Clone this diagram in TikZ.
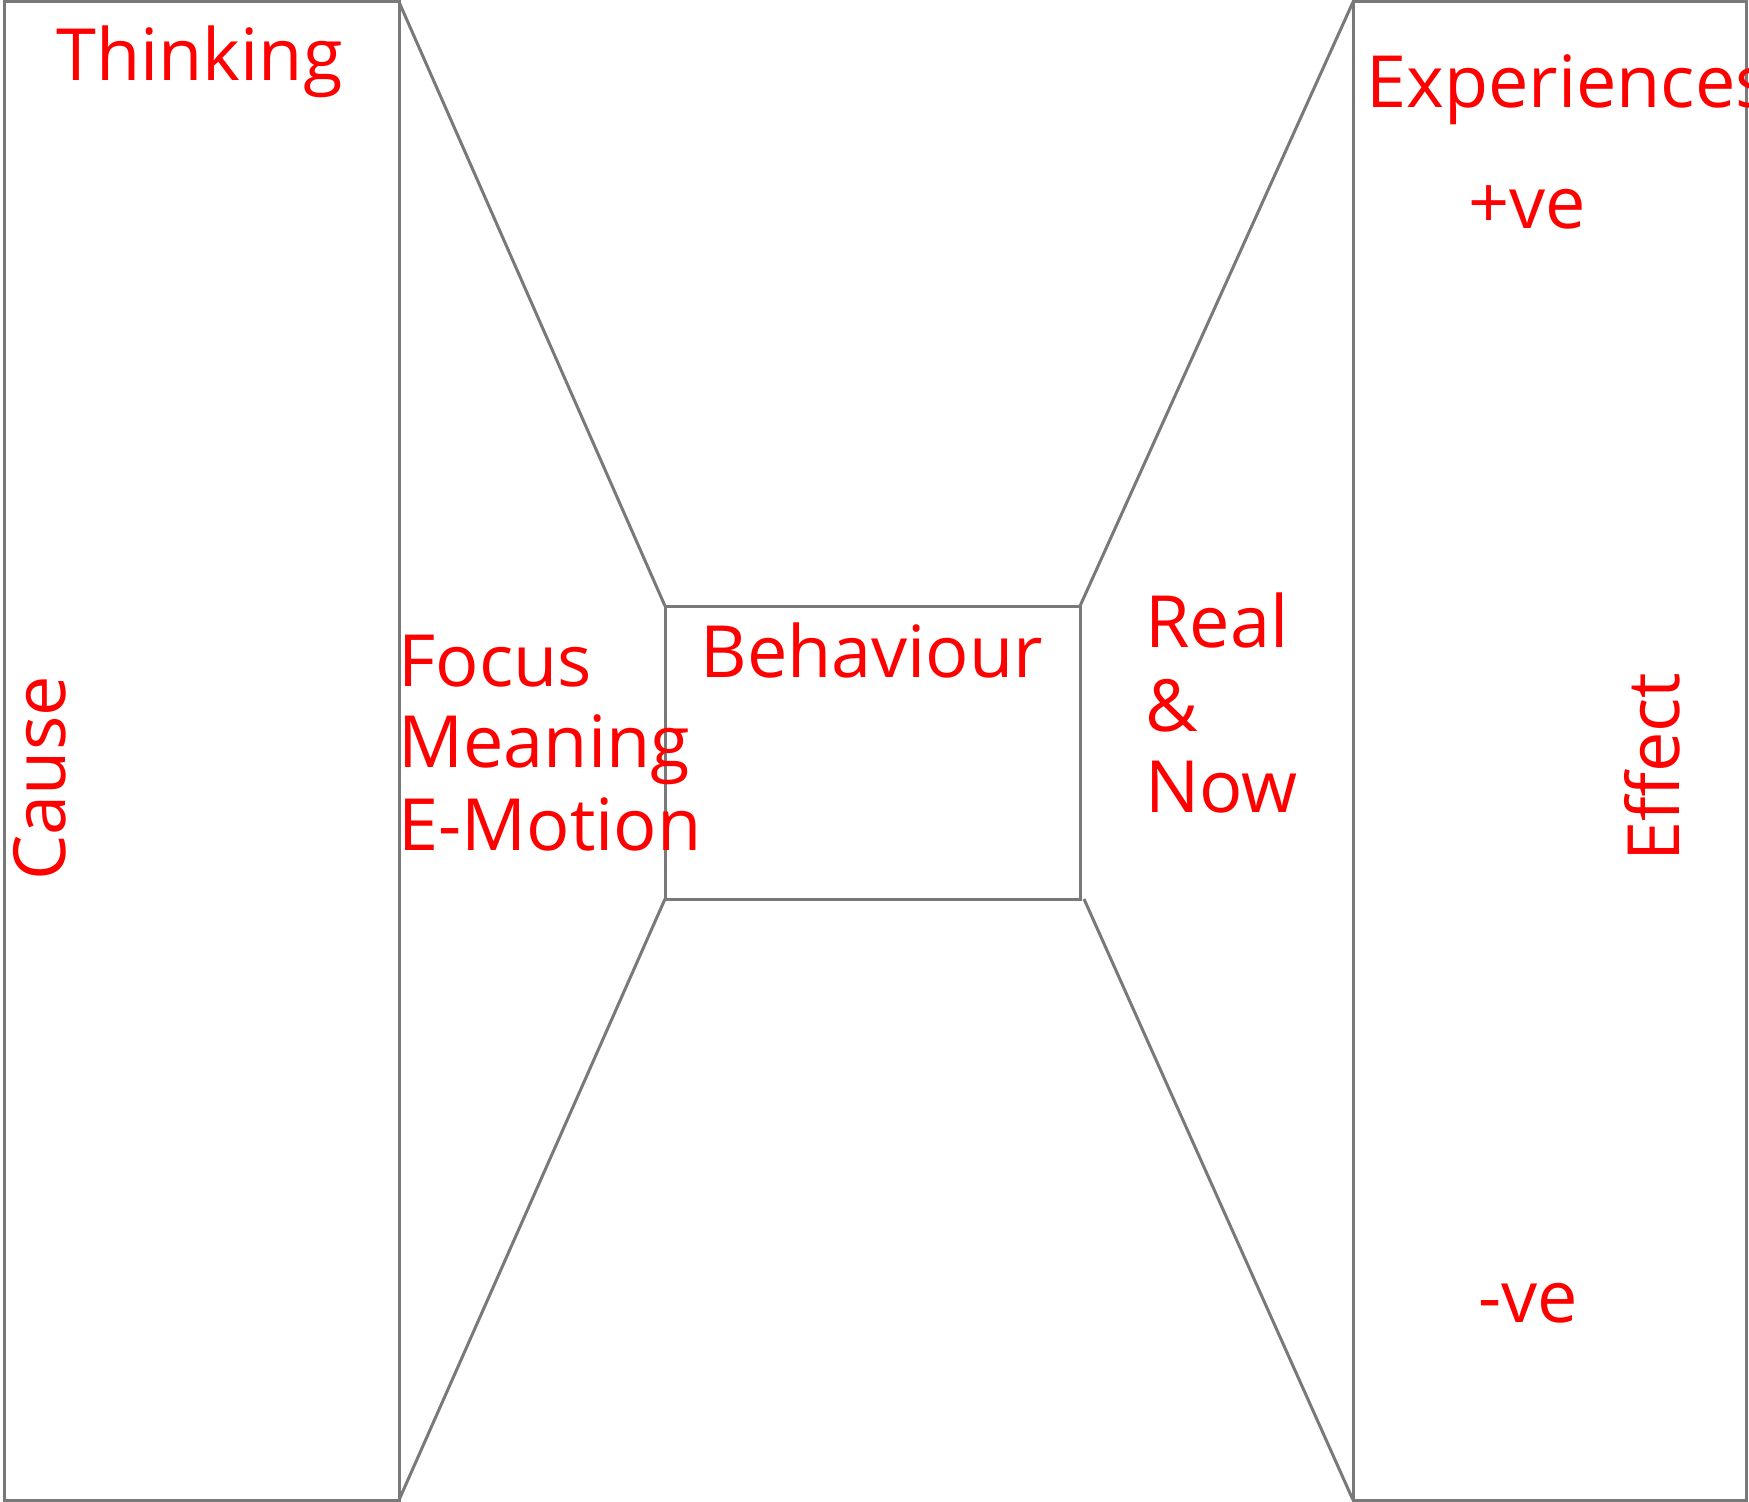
\documentclass[tikz,border=0pt]{standalone}
\usepackage{fontspec}
\setmainfont{Open Sans}
\begin{document}
\begin{tikzpicture}[x=0.5pt,y=-0.5pt,
  frame/.style={draw=gray!95!black, line width=1.5pt, line join=miter},
  link/.style={draw=gray!95!black, line width=1.5pt},
  lbl/.style={text=red, font=\fontsize{36}{40}\selectfont, inner sep=0pt, anchor=base west}]
\useasboundingbox (0,0) rectangle (1749,1502);
\fill[white] (0,0) rectangle (1749,1502);
% boxes
\draw[frame] (4,2) rectangle (399,1500);
\draw[frame] (1353,2) rectangle (1746,1500);
\draw[frame] (665,606) rectangle (1080,899);
\coordinate (LTR) at (399,2);
\coordinate (LBR) at (399,1500);
\coordinate (RTL) at (1353,2);
\coordinate (RBL) at (1353,1500);
\coordinate (CTL) at (665,606);
\coordinate (CBL) at (665,899);
\coordinate (CTR) at (1080,606);
\coordinate (CBR) at (1084,899);
\draw[link] (LTR) -- (CTL);
\draw[link] (LBR) -- (CBL);
\draw[link] (RTL) -- (CTR);
\draw[link] (RBL) -- (CBR);
% labels
\node[lbl] (thinking) at (56,81) {Thinking};
\node[lbl] (exper) at (1366,108) {Experiences};
\node[lbl] (pos) at (1468,229) {+ve};
\node[lbl] (neg) at (1478,1322) {-ve};
\node[lbl] (behav) at (700,677) {Behaviour};
\node[lbl] (focus) at (398,686) {Focus};
\node[lbl] (meaning) at (398,767) {Meaning};
\node[lbl] (emotion) at (398,850) {E-Motion};
\node[lbl] (real) at (1145,647) {Real};
\node[lbl] (amp) at (1145,731) {\&};
\node[lbl] (now) at (1145,812) {Now};
\node[lbl, rotate=90] (cause) at (65,881) {Cause};
\node[lbl, rotate=90] (effect) at (1679,862) {Effect};
\end{tikzpicture}
\end{document}
